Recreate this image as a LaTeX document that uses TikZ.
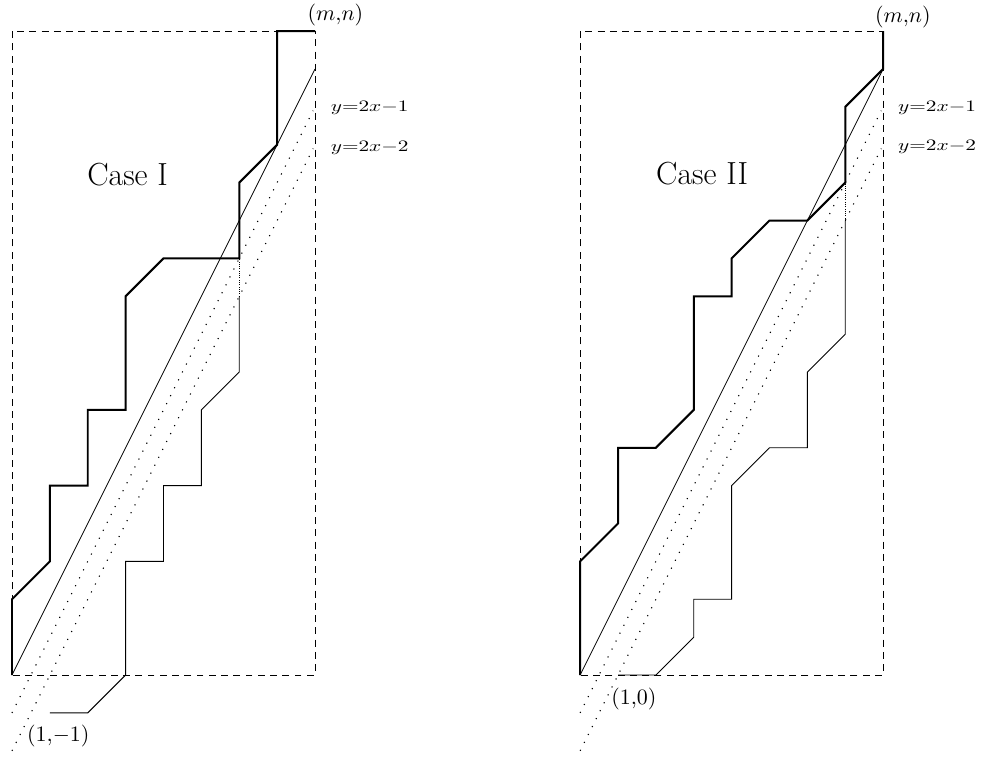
\documentclass[tikz,border=0pt]{standalone}
\usepackage{graphicx}
\newcommand{\ylabtext}[1]{\scalebox{1.6}[1.2]{$#1$}}
\begin{document}
\begin{tikzpicture}[
  rect/.style={line width=0.6pt,dash pattern=on 5.2pt off 4pt},
  diag/.style={line width=0.55pt},
  dotline/.style={line width=0.85pt,dash pattern=on 0.85pt off 5.8pt},
  boldpath/.style={line width=1.5pt,line join=miter},
  lowpath/.style={line width=0.7pt},
  finedot/.style={line width=0.5pt,dash pattern=on 0.5pt off 1.2pt},
  lab/.style={inner sep=0pt,scale=1.65},
  ylab/.style={inner sep=0pt,anchor=base west},
  caselab/.style={inner sep=0pt,anchor=base west,font=\fontsize{24}{28}\selectfont}
]
\useasboundingbox (-0.3168,-2.1386) rectangle (25.663,17.822);
% ---------- Case I ----------
\begin{scope}
  \draw[rect] (0,0) rectangle (8,17);
  \draw[diag] (0,0) -- (8,16);
  \draw[dotline] (0,-1) -- (7.95,14.9);
  \draw[dotline] (0,-2) -- (7.95,13.9);
  \draw[boldpath] (0,0)--(0,2)--(1,3)--(1,5)--(2,5)--(2,7)--(3,7)--(3,10)--(4,11)--(6,11)--(6,13)--(7,14)--(7,17)--(8,17);
  \draw[lowpath] (1,-1)--(2,-1)--(3,0)--(3,3)--(4,3)--(4,5)--(5,5)--(5,7)--(6,8)--(6,10);
  \draw[finedot] (6,10)--(6,11);
  \node[lab,anchor=base] (mnA) at (8.54,17.27) {$(m{,}n)$};
  \node[ylab] (l1A) at (8.41,14.87) {\ylabtext{y{=}2x{-}1}};
  \node[ylab] (l2A) at (8.41,13.82) {\ylabtext{y{=}2x{-}2}};
  \node[lab,anchor=base west] (ptA) at (0.39,-1.76) {$(1{,}{-}1)$};
  \node[caselab] (caseA) at (1.98,12.93) {Case I};
\end{scope}
% ---------- Case II ----------
\begin{scope}[xshift=15cm]
  \draw[rect] (0,0) rectangle (8,17);
  \draw[diag] (0,0) -- (8,16);
  \draw[dotline] (0,-1) -- (7.95,14.9);
  \draw[dotline] (0,-2) -- (7.95,13.9);
  \draw[boldpath] (0,0)--(0,3)--(1,4)--(1,6)--(2,6)--(3,7)--(3,10)--(4,10)--(4,11)--(5,12)--(6,12)--(7,13)--(7,15)--(8,16)--(8,17);
  \draw[lowpath] (1,0)--(2,0)--(3,1)--(3,2)--(4,2)--(4,5)--(5,6)--(6,6)--(6,8)--(7,9)--(7,12);
  \draw[finedot] (7,12)--(7,13);
  \node[lab,anchor=base] (mnB) at (8.52,17.22) {$(m{,}n)$};
  \node[ylab] (l1B) at (8.39,14.87) {\ylabtext{y{=}2x{-}1}};
  \node[ylab] (l2B) at (8.39,13.86) {\ylabtext{y{=}2x{-}2}};
  \node[lab,anchor=base west] (ptB) at (0.81,-0.79) {$(1{,}0)$};
  \node[caselab] (caseB) at (2.0,12.95) {Case II};
\end{scope}
\end{tikzpicture}
\end{document}
